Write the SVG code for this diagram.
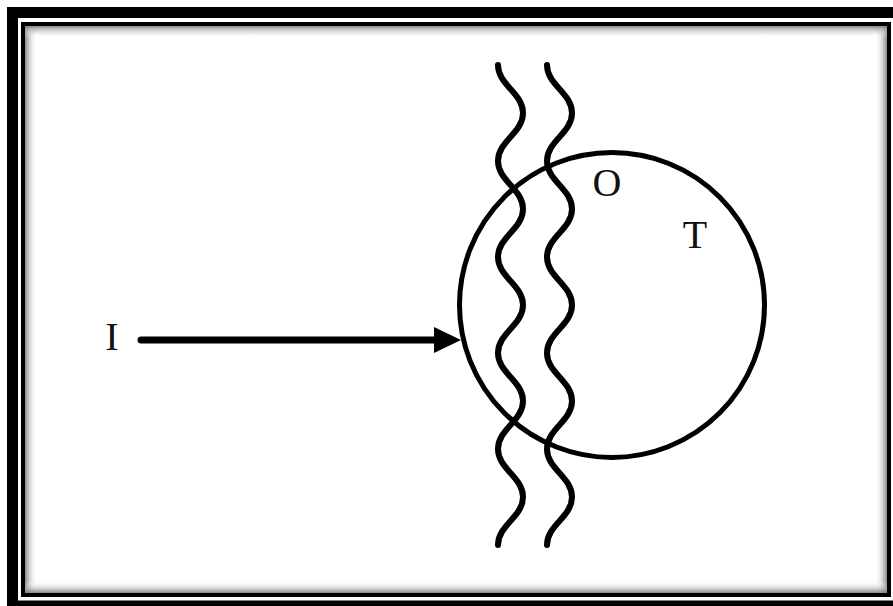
<svg xmlns="http://www.w3.org/2000/svg" width="893" height="606" viewBox="0 0 893 606">
  <style>
    .lbl { font-family: "Liberation Serif", "Times New Roman", serif; font-size: 40px; fill: #111; }
    .wave { fill: none; stroke: #000; stroke-width: 6; stroke-linecap: round; }
  </style>
  <defs>
    <linearGradient id="shL" x1="0" y1="0" x2="1" y2="0">
      <stop offset="0" stop-color="#7a7a7a" stop-opacity="0.9"/>
      <stop offset="1" stop-color="#ffffff" stop-opacity="0"/>
    </linearGradient>
    <linearGradient id="shR" x1="1" y1="0" x2="0" y2="0">
      <stop offset="0" stop-color="#7a7a7a" stop-opacity="0.9"/>
      <stop offset="1" stop-color="#ffffff" stop-opacity="0"/>
    </linearGradient>
    <linearGradient id="shT" x1="0" y1="0" x2="0" y2="1">
      <stop offset="0" stop-color="#7a7a7a" stop-opacity="0.9"/>
      <stop offset="1" stop-color="#ffffff" stop-opacity="0"/>
    </linearGradient>
    <linearGradient id="shB" x1="0" y1="1" x2="0" y2="0">
      <stop offset="0" stop-color="#7a7a7a" stop-opacity="0.9"/>
      <stop offset="1" stop-color="#ffffff" stop-opacity="0"/>
    </linearGradient>
    <path id="wavePath" d="M498,65 C498,85 523,93 523,113 S498,141 498,161 S523,189 523,209 S498,237 498,257 S523,285 523,305 S498,333 498,353 S523,381 523,401 S498,429 498,449 S523,477 523,497 S498,525 498,545"/>
  </defs>
  <rect x="0" y="0" width="893" height="606" fill="#ffffff"/>
  <g id="frame">
    <rect x="12.5" y="12.5" width="887" height="593.5" fill="none" stroke="#000" stroke-width="11"/>
    <rect x="25" y="26" width="12" height="567" fill="url(#shL)"/>
    <rect x="875" y="26" width="12" height="567" fill="url(#shR)"/>
    <rect x="25" y="26" width="862" height="12" fill="url(#shT)"/>
    <rect x="25" y="581" width="862" height="12" fill="url(#shB)"/>
    <rect x="23" y="24" width="866" height="571" fill="none" stroke="#000" stroke-width="4"/>
  </g>
  <g id="node-T">
    <circle cx="612" cy="305" r="152.5" fill="none" stroke="#000" stroke-width="5"/>
  </g>
  <g id="node-waves">
    <use href="#wavePath" class="wave"/>
    <use href="#wavePath" class="wave" transform="translate(49,0)"/>
  </g>
  <g id="label-I"><text class="lbl" x="112" y="350" text-anchor="middle">I</text></g>
  <g id="label-O"><text class="lbl" x="607" y="196" text-anchor="middle">O</text></g>
  <g id="label-T"><text class="lbl" x="695" y="248" text-anchor="middle">T</text></g>
  <g id="connectors">
    <line x1="141" y1="340" x2="437" y2="340" stroke="#000" stroke-width="7" stroke-linecap="round"/>
    <polygon points="434,327 461,340 434,353" fill="#000"/>
  </g>
</svg>
